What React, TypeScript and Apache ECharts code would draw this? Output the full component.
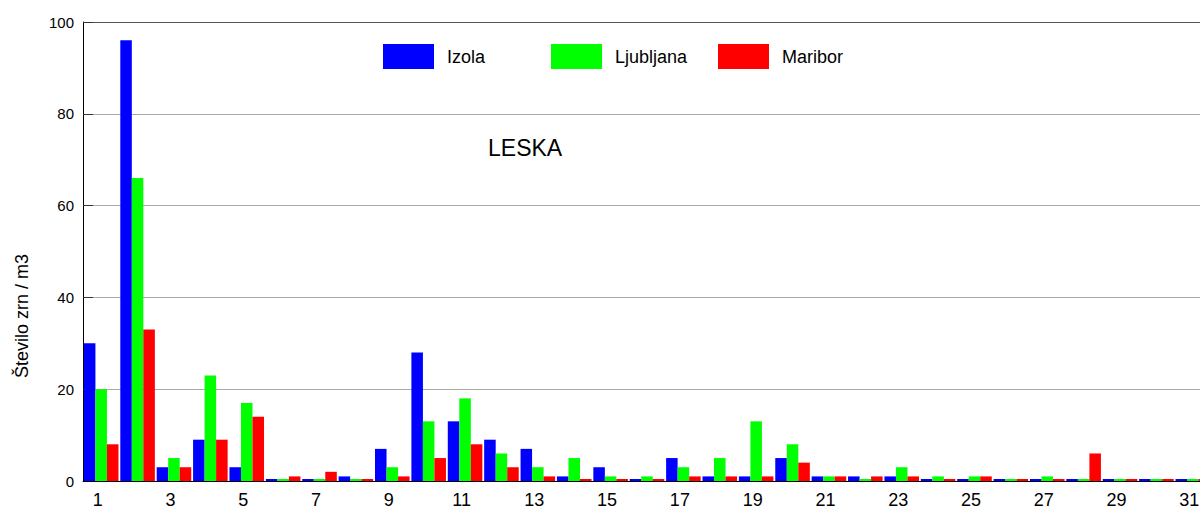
import React, { useEffect, useRef } from "react";
import * as echarts from "echarts";

const days = Array.from({ length: 31 }, (_, i) => String(i + 1));
const seriesNames = ["Izola", "Ljubljana", "Maribor"];
const seriesColors = ["#0000ff", "#00ff00", "#ff0000"];
const izola = [30, 96, 3, 9, 3, 0, 0, 1, 7, 28, 13, 9, 7, 1, 3, 0, 5, 1, 1, 5, 1, 1, 1, 0, 0, 0, 0, 0, 0, 0, 0];
const ljubljana = [20, 66, 5, 23, 17, 0, 0, 0, 3, 13, 18, 6, 3, 5, 1, 1, 3, 5, 13, 8, 1, 0, 3, 1, 1, 0, 1, 0, 0, 0, 0];
const maribor = [8, 33, 3, 9, 14, 1, 2, 0, 1, 5, 8, 3, 1, 0, 0, 0, 1, 1, 1, 4, 1, 1, 1, 0, 1, 0, 0, 6, 0, 0, 0];
const yTicks = [0, 20, 40, 60, 80, 100];
const chartTitle = "LESKA";
const yAxisTitle = "Število zrn / m3";

const FONT = "'Liberation Sans', Arial, Helvetica, sans-serif";

export default function App() {
  const ref = useRef<HTMLDivElement>(null);
  useEffect(() => {
    document.body.style.margin = "0";
    document.body.style.overflow = "hidden";
    if (!ref.current) return;
    const chart = echarts.init(ref.current, null, { renderer: "svg" });
    const values = [izola, ljubljana, maribor];
    const legendLefts = [383, 551, 718];
    chart.setOption({
      animation: false,
      backgroundColor: "#ffffff",
      textStyle: { fontFamily: FONT },
      title: {
        text: chartTitle,
        left: 488,
        top: 136,
        padding: 0,
        textStyle: { fontSize: 23, fontWeight: "normal", color: "#000", fontFamily: FONT },
      },
      legend: seriesNames.map((name, i) => ({
        data: [name],
        left: legendLefts[i],
        top: 44,
        padding: 0,
        itemWidth: 51,
        itemHeight: 25,
        itemStyle: { borderWidth: 0 },
        textStyle: { fontSize: 18, color: "#000", fontFamily: FONT, padding: [0, 0, 0, 8] },
        selectedMode: false,
        icon: "rect",
      })),
      graphic: [
        {
          type: "text",
          x: 22,
          y: 316,
          rotation: Math.PI / 2,
          style: {
            text: yAxisTitle,
            fontSize: 18,
            fontFamily: FONT,
            fill: "#000",
            align: "center",
            verticalAlign: "middle",
          },
        },
      ],
      grid: { left: 83, right: 0, top: 22, bottom: 28, containLabel: false },
      xAxis: {
        type: "category",
        data: days,
        z: 5,
        axisLine: { lineStyle: { color: "#000", width: 1 } },
        axisTick: { inside: true, length: 7, interval: 0, lineStyle: { color: "#000" } },
        axisLabel: {
          interval: 1,
          fontSize: 18,
          color: "#000",
          fontFamily: FONT,
          margin: 10,
          padding: [0, 7, 0, 0],
        },
      },
      yAxis: {
        type: "value",
        min: 0,
        max: 100,
        interval: 20,
        axisLine: { show: true, lineStyle: { color: "#000" } },
        axisTick: { show: true, inside: true, length: 10, lineStyle: { color: "#333" } },
        axisLabel: {
          fontSize: 15,
          color: "#000",
          fontFamily: FONT,
          margin: 9,
          formatter: (v: number) => (yTicks.includes(v) ? String(v) : ""),
        },
        splitLine: {
          show: true,
          lineStyle: {
            color: ["#aaaaaa", "#aaaaaa", "#aaaaaa", "#aaaaaa", "#aaaaaa", "#555555"],
            width: 1,
          },
        },
      },
      series: seriesNames.map((name, i) => ({
        name,
        type: "bar",
        data: values[i],
        barGap: "0%",
        barCategoryGap: "5%",
        barMinHeight: 2,
        itemStyle: { color: seriesColors[i] },
      })),
    });
    return () => chart.dispose();
  }, []);
  return (
    <div style={{ width: 1200, height: 509, overflow: "hidden", position: "relative" }}>
      <div ref={ref} style={{ width: 1211, height: 509 }} />
    </div>
  );
}
